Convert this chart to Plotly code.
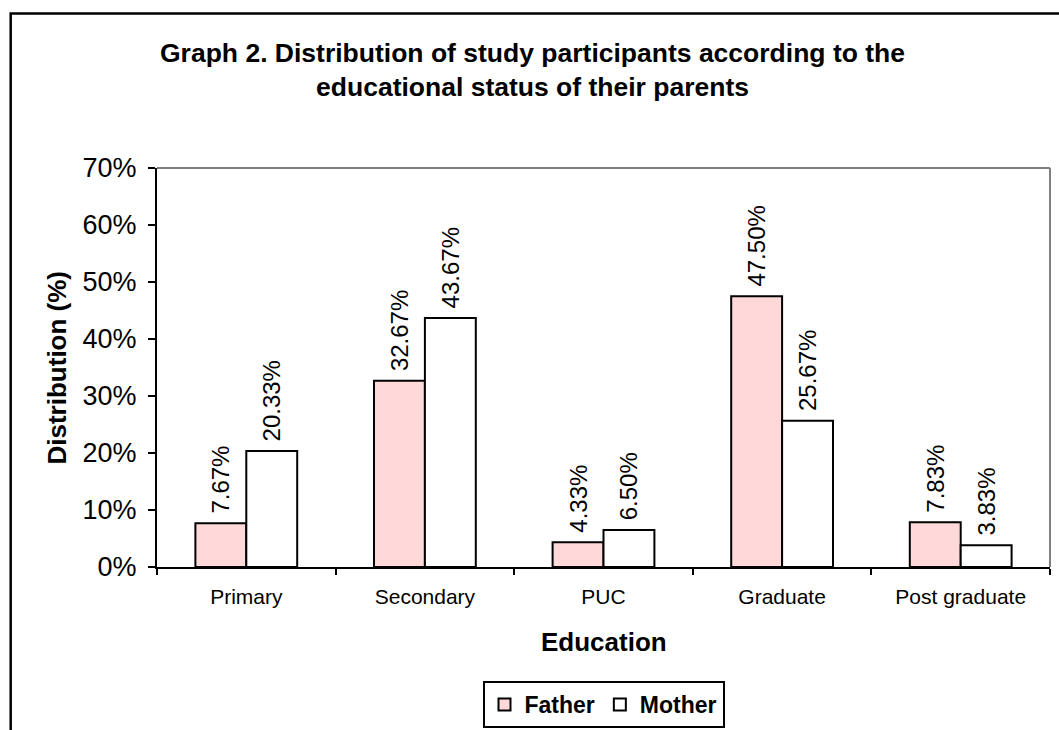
import plotly.graph_objects as go

# Educational level of the parents
categories = ["Primary", "Secondary", "PUC", "Graduate", "Post graduate"]
father_pct = [7.67, 32.67, 4.33, 47.50, 7.83]
mother_pct = [20.33, 43.67, 6.50, 25.67, 3.83]
y_ticks = [0, 10, 20, 30, 40, 50, 60, 70]
y_tick_labels = [f"{v}%" for v in y_ticks]

FONT = "Arial, Liberation Sans, sans-serif"
W, H = 1059, 730
L, R, T, B = 157, 9, 168, 163
PW, PH = W - L - R, H - T - B


def px_x(px):
    return (px - L) / PW


def px_y(py):
    return (H - B - py) / PH


fig = go.Figure()
for name, vals, fill in [("Father", father_pct, "#FFD9D9"),
                         ("Mother", mother_pct, "#FFFFFF")]:
    fig.add_trace(go.Bar(
        name=name, x=categories, y=vals,
        marker=dict(color=fill, line=dict(color="black", width=2)),
        text=["\u00a0" + f"{v:.2f}%" for v in vals],
        textposition="outside", textangle=-90,
        outsidetextfont=dict(family=FONT, size=24, color="black"),
        constraintext="none", cliponaxis=False,
    ))

fig.update_layout(
    width=W, height=H,
    margin=dict(l=L, r=R, t=T, b=B, autoexpand=False),
    paper_bgcolor="white", plot_bgcolor="white",
    barmode="group", bargap=0.43, bargroupgap=0,
    font=dict(family=FONT, color="black"),
    showlegend=True,
    legend=dict(
        orientation="h", x=0.5, xanchor="center",
        y=px_y(681), yanchor="top",
        font=dict(family=FONT, size=23, color="black", weight="bold"),
        bordercolor="black", borderwidth=2, bgcolor="white",
        itemwidth=30, tracegroupgap=0,
    ),
    xaxis=dict(
        type="category", showline=True, linecolor="black", linewidth=2,
        ticks="outside", tickson="boundaries", ticklen=6, tickwidth=2,
        tickcolor="black", showgrid=False, zeroline=False,
        ticklabelstandoff=10,
        tickfont=dict(family=FONT, size=21, color="black"),
    ),
    yaxis=dict(
        range=[0, 70], tickmode="array", tickvals=y_ticks, ticktext=y_tick_labels,
        showline=True, linecolor="black", linewidth=2,
        ticks="outside", ticklen=7, tickwidth=2, tickcolor="black",
        showgrid=False, zeroline=False, ticklabelstandoff=6,
        tickfont=dict(family=FONT, size=27, color="black"),
    ),
)

# Plot-area border (top and right) and the outer chart frame
fig.add_shape(type="line", xref="paper", yref="paper", x0=0, x1=1, y0=1, y1=1,
              line=dict(color="#808080", width=2))
fig.add_shape(type="line", xref="paper", yref="paper", x0=1, x1=1, y0=0, y1=1,
              line=dict(color="#808080", width=2))
fig.add_shape(type="rect", xref="paper", yref="paper",
              x0=px_x(10.7), x1=px_x(1200), y0=px_y(900), y1=px_y(13.5),
              line=dict(color="black", width=2.5), fillcolor="rgba(0,0,0,0)",
              layer="below")

fig.add_annotation(
    text="Graph 2. Distribution of study participants according to the<br>"
         "educational status of their parents",
    xref="paper", yref="paper", x=px_x(532), y=px_y(36),
    xanchor="center", yanchor="top", align="center", showarrow=False,
    font=dict(family=FONT, size=26.5, color="black", weight="bold"),
)
fig.add_annotation(
    text="Education", xref="paper", yref="paper", x=0.5, y=px_y(642),
    xanchor="center", yanchor="middle", showarrow=False,
    font=dict(family=FONT, size=26, color="black", weight="bold"),
)
fig.add_annotation(
    text="Distribution (%)", xref="paper", yref="paper", x=px_x(56), y=0.5,
    xanchor="center", yanchor="middle", textangle=-90, showarrow=False,
    font=dict(family=FONT, size=26, color="black", weight="bold"),
)

fig.write_html("out.html")
